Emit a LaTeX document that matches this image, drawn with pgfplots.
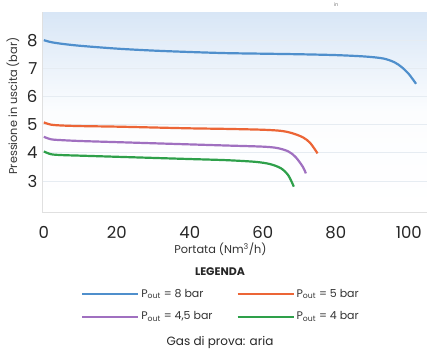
\documentclass[border=0pt]{standalone}
\usepackage{pgfplots}
\pgfplotsset{compat=1.18}
\usepackage{fontspec}
\setmainfont{Poppins}
\definecolor{cblue}{HTML}{4F8FCC}
\definecolor{corange}{HTML}{EC6536}
\definecolor{cpurple}{HTML}{A070C0}
\definecolor{cgreen}{HTML}{2EA04A}
\definecolor{bgtop}{HTML}{D8E6F6}
\definecolor{gridc}{HTML}{E6ECF2}
\begin{document}
\begin{tikzpicture}[x=1pt,y=1pt]
\useasboundingbox (0,0) rectangle (427,352);
\begin{axis}[
  at={(42pt,140pt)}, anchor=south west,
  width=385pt, height=200pt, scale only axis,
  xmin=-0.5, xmax=105, ymin=1.9, ymax=9,
  xtick={0,20,40,60,80,100},
  ytick={3,4,5,6,7,8},
  /pgf/number format/assume math mode=true,
  tick style={draw=none},
  ticklabel style={font=\fontsize{16.5}{18}\selectfont, text=black!85},
  xticklabel style={yshift=-11pt},
  yticklabel style={xshift=-1pt},
  axis line style={draw=black!12},
  axis lines*=left,
  ymajorgrids, major grid style={draw=gridc, line width=0.8pt},
  axis background/.style={top color=bgtop, bottom color=white, middle color=white!92!bgtop},
  xlabel={Portata (Nm\textsuperscript{3}/h)},
  ylabel={Pressione in uscita (bar)},
  label style={font=\fontsize{11.3}{13}\selectfont, text=black!80},
  xlabel style={yshift=3pt, xshift=-14pt},
  ylabel style={yshift=1pt, xshift=6pt},
  legend columns=2,
  legend cell align=left,
  legend style={draw=none, fill=none, at={(0.465,-0.365)}, anchor=north,
    font=\fontsize{11}{13}\selectfont, text=black!80,
    /tikz/every even column/.append style={column sep=22pt},
    row sep=9pt},
  legend image code/.code={\draw[#1, line width=2pt] (0pt,0pt) -- (56pt,0pt);},
  every axis plot/.append style={line width=2.2pt, smooth},
  clip=false,
]
\addplot[cblue, mark=none] coordinates {(0,8.0) (2,7.93) (5,7.87) (10,7.8) (20,7.7) (30,7.63) (40,7.58) (50,7.54) (60,7.52) (70,7.5) (80,7.47) (88,7.42) (93,7.35) (96,7.22) (98,7.05) (100,6.8) (102,6.45)};
\addlegendentry{P\textsubscript{out} = 8 bar}
\addplot[corange, mark=none] coordinates {(0,5.08) (2,5.0) (5,4.97) (10,4.95) (20,4.93) (30,4.9) (40,4.87) (50,4.85) (60,4.82) (65,4.78) (68,4.7) (71,4.55) (73,4.35) (75,3.98)};
\addlegendentry{P\textsubscript{out} = 5 bar}
\addplot[cpurple, mark=none] coordinates {(0,4.57) (2,4.48) (5,4.45) (10,4.42) (20,4.38) (30,4.34) (40,4.3) (50,4.26) (60,4.22) (64,4.17) (67,4.05) (69,3.85) (71,3.5) (71.8,3.27)};
\addlegendentry{P\textsubscript{out} = 4,5 bar}
\addplot[cgreen, mark=none] coordinates {(0,4.05) (2,3.95) (5,3.92) (10,3.9) (20,3.86) (30,3.82) (40,3.78) (50,3.74) (58,3.68) (62,3.6) (65,3.45) (67,3.2) (68.5,2.8)};
\addlegendentry{P\textsubscript{out} = 4 bar}
\end{axis}
\node[font=\bfseries\fontsize{11}{13}\selectfont, text=black!85] at (220,80) {LEGENDA};
\node[font=\fontsize{12}{14}\selectfont, text=black!85] at (220,10) {Gas di prova: aria};
\node[font=\fontsize{5}{6}\selectfont, text=black!50, anchor=north] at (336,353) {in};
\end{tikzpicture}
\end{document}
